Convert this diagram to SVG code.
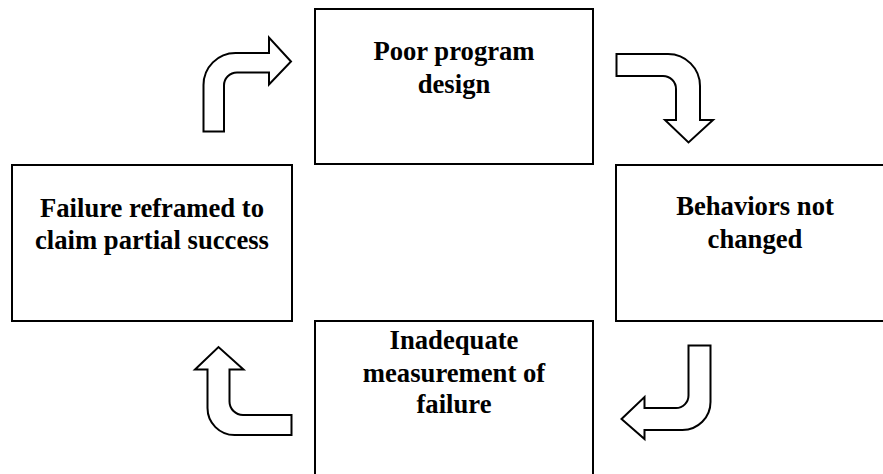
<svg xmlns="http://www.w3.org/2000/svg" width="883" height="474" viewBox="0 0 883 474">
<style>
.box{fill:#fff;stroke:#000;stroke-width:2}
.arr{fill:#fff;stroke:#000;stroke-width:2;stroke-linejoin:miter}
.t{font-family:"Liberation Serif","Times New Roman",serif;font-weight:bold;font-size:26.67px;text-anchor:middle;fill:#000}
</style>
<rect width="883" height="474" fill="#fff"/>
<g id="node-poor-design">
<rect class="box" x="315" y="9" width="278" height="155"/>
<text class="t" x="454" y="60">Poor program</text>
<text class="t" x="454" y="93">design</text>
</g>
<g id="node-behaviors">
<rect class="box" x="616" y="165" width="280" height="156"/>
<text class="t" x="755" y="215">Behaviors not</text>
<text class="t" x="755" y="248">changed</text>
</g>
<g id="node-measurement">
<rect class="box" x="315" y="321" width="278" height="160"/>
<text class="t" x="454" y="349">Inadequate</text>
<text class="t" x="454" y="381.5">measurement of</text>
<text class="t" x="454" y="413">failure</text>
</g>
<g id="node-reframed">
<rect class="box" x="12" y="165" width="280" height="156"/>
<text class="t" x="152" y="217">Failure reframed to</text>
<text class="t" x="152" y="249">claim partial success</text>
</g>
<g id="connectors">
<path class="arr" d="M 203.5 131.5 V 85 A 32 32 0 0 1 235.5 53 H 269 V 37.5 L 291 61.5 L 269 84.5 V 72.5 H 237 A 13 13 0 0 0 224 85.5 V 131.5 Z"/>
<path class="arr" d="M 616.5 54 H 668 A 32 32 0 0 1 700 86 V 120 H 713 L 688.5 142.5 L 665 120 H 676 V 89 A 13 13 0 0 0 663 76 H 616.5 Z"/>
<path class="arr" d="M 688.5 345.5 H 710.5 V 402 A 28 28 0 0 1 682.5 430 H 644.5 V 439 L 621.5 419 L 644.5 397 V 408 H 676 A 12.5 12.5 0 0 0 688.5 395.5 Z"/>
<path class="arr" d="M 291.5 415 H 243 A 13.5 13.5 0 0 1 229.5 401.5 V 369.5 H 243.5 L 218.5 347 L 195 369.5 H 207.5 V 408 A 27 27 0 0 0 234.5 435 H 291.5 Z"/>
</g>
</svg>
